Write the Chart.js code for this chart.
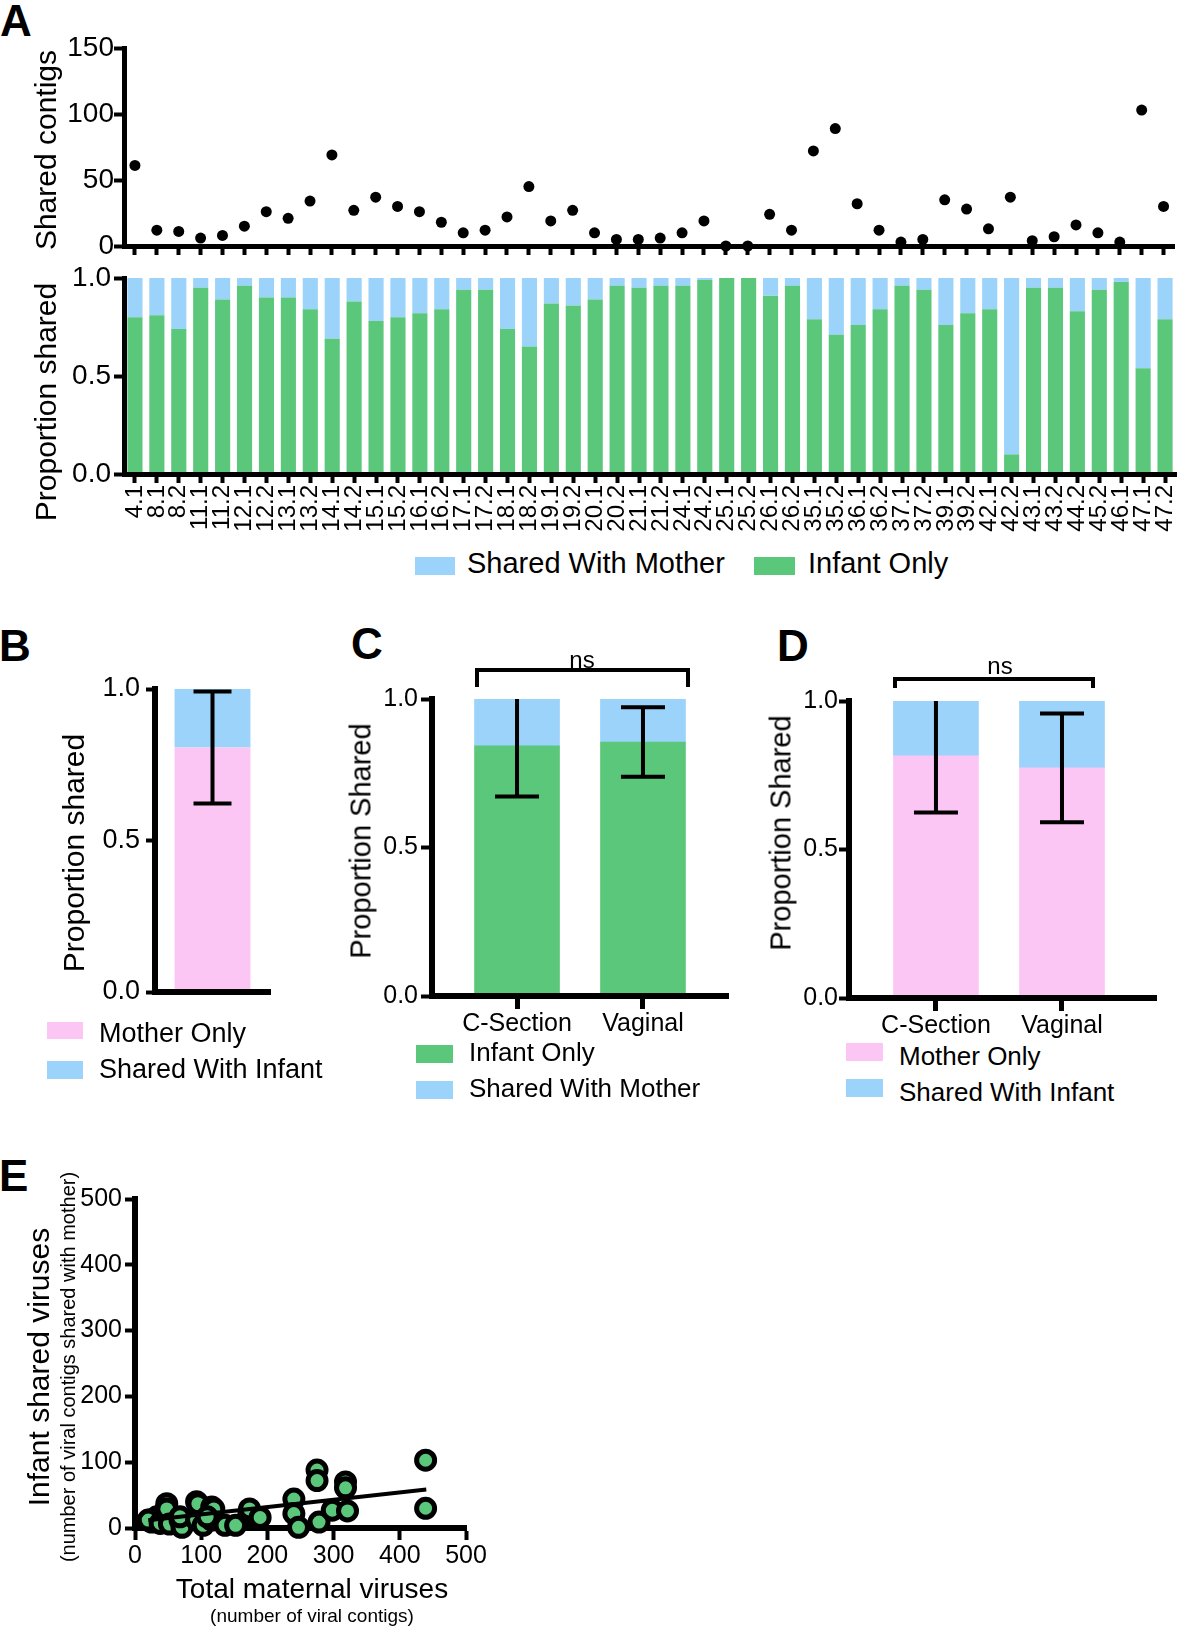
<!DOCTYPE html>
<html><head><meta charset="utf-8">
<script src="https://cdn.jsdelivr.net/npm/chart.js@4.4.1/dist/chart.umd.min.js"></script>
<style>
html,body{margin:0;padding:0;background:#fff;}
body{width:1180px;height:1628px;position:relative;overflow:hidden;font-family:'Liberation Sans',Arial,Helvetica,sans-serif;color:#000;}
.box{position:absolute;}
.t{position:absolute;white-space:nowrap;line-height:1;}
.c{transform:translateX(-50%);}
.rot{position:absolute;white-space:nowrap;line-height:1;transform:translate(-50%,-50%) rotate(-90deg);}
.sw{position:absolute;}
.panel{position:absolute;font-weight:bold;font-size:44px;line-height:1;}
.ln{position:absolute;background:#000;}
</style></head><body>

<div class="panel" style="left:0;top:-1px;">A</div>
<div class="panel" style="left:-1px;top:624px;">B</div>
<div class="panel" style="left:351px;top:622px;">C</div>
<div class="panel" style="left:777px;top:624px;">D</div>
<div class="panel" style="left:-1px;top:1154px;">E</div>

<div class="box" style="left:0;top:0;width:1180px;height:262px;"><canvas id="cA1"></canvas></div>
<div class="box" style="left:0;top:262px;width:1180px;height:278px;"><canvas id="cA2"></canvas></div>
<div class="box" style="left:0;top:660px;width:275px;height:340px;"><canvas id="cB"></canvas></div>
<div class="box" style="left:340px;top:680px;width:400px;height:360px;"><canvas id="cC"></canvas></div>
<div class="box" style="left:760px;top:680px;width:410px;height:360px;"><canvas id="cD"></canvas></div>
<div class="box" style="left:0;top:1180px;width:490px;height:400px;"><canvas id="cE"></canvas></div>

<div class="rot" style="left:46px;top:150px;font-size:30px;">Shared contigs</div>
<div class="rot" style="left:46px;top:402px;font-size:30px;">Proportion shared</div>
<div class="rot" style="left:74px;top:853px;font-size:30px;">Proportion shared</div>
<div class="rot" style="left:361px;top:841px;font-size:29px;">Proportion Shared</div>
<div class="rot" style="left:781px;top:833px;font-size:29px;">Proportion Shared</div>
<div class="rot" style="left:39px;top:1367px;font-size:30px;">Infant shared viruses</div>
<div class="rot" style="left:68px;top:1367px;font-size:20px;">(number of viral contigs shared with mother)</div>
<div class="t c" style="left:312px;top:1575px;font-size:28px;">Total maternal viruses</div>
<div class="t c" style="left:312px;top:1606px;font-size:19px;">(number of viral contigs)</div>

<div class="sw" style="left:415px;top:557px;width:40px;height:18px;background:#9bd3fa;"></div>
<div class="t" style="left:467px;top:549px;font-size:29px;">Shared With Mother</div>
<div class="sw" style="left:754px;top:557px;width:41px;height:18px;background:#5ac77b;"></div>
<div class="t" style="left:808px;top:549px;font-size:29px;">Infant Only</div>

<div class="sw" style="left:47px;top:1022px;width:36px;height:17px;background:#fcc6f4;"></div>
<div class="t" style="left:99px;top:1020px;font-size:27px;">Mother Only</div>
<div class="sw" style="left:47px;top:1061px;width:36px;height:18px;background:#9bd3fa;"></div>
<div class="t" style="left:99px;top:1056px;font-size:27px;">Shared With Infant</div>

<div class="sw" style="left:416px;top:1045px;width:37px;height:18px;background:#5ac77b;"></div>
<div class="t" style="left:469px;top:1039px;font-size:26px;">Infant Only</div>
<div class="sw" style="left:416px;top:1081px;width:37px;height:18px;background:#9bd3fa;"></div>
<div class="t" style="left:469px;top:1075px;font-size:26px;">Shared With Mother</div>

<div class="sw" style="left:846px;top:1043px;width:37px;height:18px;background:#fcc6f4;"></div>
<div class="t" style="left:899px;top:1043px;font-size:26px;">Mother Only</div>
<div class="sw" style="left:846px;top:1079px;width:37px;height:18px;background:#9bd3fa;"></div>
<div class="t" style="left:899px;top:1079px;font-size:26px;">Shared With Infant</div>

<div class="ln" style="left:475px;top:668px;width:215px;height:4px;"></div>
<div class="ln" style="left:475px;top:668px;width:4px;height:19px;"></div>
<div class="ln" style="left:686px;top:668px;width:4px;height:19px;"></div>
<div class="t c" style="left:582px;top:648px;font-size:24px;">ns</div>
<div class="ln" style="left:893px;top:677px;width:202px;height:4px;"></div>
<div class="ln" style="left:893px;top:677px;width:4px;height:11px;"></div>
<div class="ln" style="left:1091px;top:677px;width:4px;height:11px;"></div>
<div class="t c" style="left:1000px;top:654px;font-size:24px;">ns</div>

<script>
// ---------------- DATA ----------------
const infantIds = ['4.1','8.1','8.2','11.1','11.2','12.1','12.2','13.1','13.2','14.1','14.2','15.1','15.2','16.1','16.2','17.1','17.2','18.1','18.2','19.1','19.2','20.1','20.2','21.1','21.2','24.1','24.2','25.1','25.2','26.1','26.2','35.1','35.2','36.1','36.2','37.1','37.2','39.1','39.2','42.1','42.2','43.1','43.2','44.2','45.2','46.1','47.1','47.2'];
const sharedContigs = [61,12,11,6,8,15,26,21,34,69,27,37,30,26,18,10,12,22,45,19,27,10,5,5,6,10,19,0,0,24,12,72,89,32,12,3,5,35,28,13,37,4,7,16,10,3,103,30];
const infantOnlyProp = [0.80,0.81,0.74,0.95,0.89,0.96,0.90,0.90,0.84,0.69,0.88,0.78,0.80,0.82,0.84,0.94,0.94,0.74,0.65,0.87,0.86,0.89,0.96,0.95,0.96,0.96,0.99,1.00,1.00,0.91,0.96,0.79,0.71,0.76,0.84,0.96,0.94,0.76,0.82,0.84,0.10,0.95,0.95,0.83,0.94,0.98,0.54,0.79];
const sharedWithMotherProp = [0.20,0.19,0.26,0.05,0.11,0.04,0.10,0.10,0.16,0.31,0.12,0.22,0.20,0.18,0.16,0.06,0.06,0.26,0.35,0.13,0.14,0.11,0.04,0.05,0.04,0.04,0.01,0.00,0.00,0.09,0.04,0.21,0.29,0.24,0.16,0.04,0.06,0.24,0.18,0.16,0.90,0.05,0.05,0.17,0.06,0.02,0.46,0.21];

const motherGroupB = ['Mothers'];
const motherOnlyB = [0.807];
const sharedWithInfantB = [0.193];
const sdB = [0.185];

const deliveryGroups = ['C-Section','Vaginal'];
const infantOnlyC = [0.842,0.855];
const sharedWithMotherC = [0.158,0.145];
const sdC = [0.170,0.117];

const motherOnlyD = [0.815,0.775];
const sharedWithInfantD = [0.185,0.225];
const sdD = [0.190,0.183];

const maternalTotal = [22,33,25,20,38,48,46,48,52,68,71,68,93,93,95,103,116,116,119,109,136,152,172,173,189,240,240,247,275,275,278,298,318,318,321,439,439];
const infantShared  = [12,17,9,12,7,37,27,29,6,12,1,17,40,12,37,4,32,12,29,17,4,4,22,29,16,44,22,1,88,72,9,27,70,61,26,103,30];
const fitX = [20,440];
const fitY = [11.8,58.4];

// ---------------- STYLE ----------------
const GREEN = '#5ac77b', BLUE = '#9bd3fa', PINK = '#fcc6f4';
Chart.defaults.font.family = "'Liberation Sans', Arial, Helvetica, sans-serif";
Chart.defaults.color = '#000';
Chart.defaults.animation = false;
Chart.defaults.plugins.legend.display = false;
Chart.defaults.plugins.tooltip.enabled = false;

const errorBars = {
  id: 'errorBars',
  afterDatasetsDraw(chart, args, opts) {
    if (!opts || !opts.sd) return;
    const meta = chart.getDatasetMeta(opts.datasetIndex);
    const ds = chart.data.datasets[opts.datasetIndex];
    const ys = chart.scales.y;
    const ctx = chart.ctx;
    ctx.save();
    ctx.strokeStyle = '#000';
    ctx.lineWidth = opts.lineWidth;
    ctx.lineCap = 'butt';
    meta.data.forEach((bar, i) => {
      const raw = ds.data[i];
      const v = (typeof raw === 'object') ? raw.y : raw;
      const hi = v + opts.sd[i], lo = v - opts.sd[i];
      const yHi = ys.getPixelForValue(Math.min(hi, ys.max));
      const yLo = ys.getPixelForValue(lo);
      const x = bar.x, hw = opts.capWidth / 2;
      ctx.beginPath();
      ctx.moveTo(x, yLo); ctx.lineTo(x, yHi);
      ctx.moveTo(x - hw, yLo); ctx.lineTo(x + hw, yLo);
      if (hi <= ys.max) { ctx.moveTo(x - hw, yHi); ctx.lineTo(x + hw, yHi); }
      ctx.stroke();
    });
    ctx.restore();
  }
};
Chart.register(errorBars);

function yAxis(o) {
  return {
    type: 'linear', min: o.min, max: o.max, stacked: !!o.stacked,
    ticks: {stepSize: o.step, font: {size: o.fs}, padding: o.pad, color: '#000',
            callback: o.cb || (v => v)},
    grid: {display: true, drawOnChartArea: false, drawTicks: true, tickLength: o.tl, tickWidth: 4, tickColor: '#000'},
    border: {display: true, width: o.bw, color: '#000', z: 1},
    afterFit: s => { s.width = o.width; s.paddingTop = 0; s.paddingBottom = 0; }
  };
}
function fixX(h) {
  return s => { s.height = h; s.paddingLeft = 0; s.paddingRight = 0; };
}
const fmt1 = v => Number(v).toFixed(1);

// ---------------- A top: shared contigs ----------------
new Chart(document.getElementById('cA1'), {
  type: 'line',
  data: {labels: infantIds, datasets: [{
    data: sharedContigs, showLine: false, pointRadius: 5.5, pointBackgroundColor: '#000',
    pointBorderWidth: 0, borderColor: '#000', clip: false
  }]},
  options: {
    responsive: true, maintainAspectRatio: false,
    layout: {padding: {top: 48, right: 4, left: 0, bottom: 0}},
    scales: {
      x: {type: 'category', offset: true,
          ticks: {display: false},
          grid: {display: true, drawOnChartArea: false, drawTicks: true, tickLength: 9, tickWidth: 4, tickColor: '#000', offset: false},
          border: {display: true, width: 5, color: '#000'},
          afterFit: fixX(16)},
      y: yAxis({min: 0, max: 150, step: 50, fs: 28, pad: 0, tl: 10, bw: 5, width: 124})
    }
  }
});

// ---------------- A bottom: proportion per infant ----------------
new Chart(document.getElementById('cA2'), {
  type: 'bar',
  data: {labels: infantIds, datasets: [
    {label: 'Infant Only', data: infantOnlyProp, backgroundColor: GREEN, borderWidth: 0},
    {label: 'Shared With Mother', data: sharedWithMotherProp, backgroundColor: BLUE, borderWidth: 0}
  ]},
  options: {
    responsive: true, maintainAspectRatio: false,
    datasets: {bar: {barPercentage: 0.69, categoryPercentage: 1}},
    layout: {padding: {top: 16, right: 4, left: 0, bottom: 0}},
    scales: {
      x: {type: 'category', offset: true, stacked: true,
          ticks: {autoSkip: false, minRotation: 90, maxRotation: 90, font: {size: 24}, padding: 2, color: '#000'},
          grid: {display: true, drawOnChartArea: false, drawTicks: true, tickLength: 9, tickWidth: 4, tickColor: '#000', offset: false},
          border: {display: true, width: 5, color: '#000', z: 1},
          afterFit: fixX(66)},
      y: yAxis({min: 0, max: 1, step: 0.5, fs: 28, pad: 3, tl: 10, bw: 5, width: 124, stacked: true, cb: fmt1})
    }
  }
});

// ---------------- B ----------------
new Chart(document.getElementById('cB'), {
  type: 'bar',
  data: {labels: motherGroupB, datasets: [
    {label: 'Mother Only', data: motherOnlyB, backgroundColor: PINK, borderWidth: 0},
    {label: 'Shared With Infant', data: sharedWithInfantB, backgroundColor: BLUE, borderWidth: 0}
  ]},
  options: {
    responsive: true, maintainAspectRatio: false,
    datasets: {bar: {barPercentage: 0.66, categoryPercentage: 1}},
    layout: {padding: {top: 29, right: 5, left: 0, bottom: 0}},
    plugins: {errorBars: {datasetIndex: 0, sd: sdB, capWidth: 38, lineWidth: 4}},
    scales: {
      x: {type: 'category', offset: true, stacked: true,
          ticks: {display: false},
          grid: {display: false},
          border: {display: true, width: 6, color: '#000', z: 1},
          afterFit: fixX(8)},
      y: yAxis({min: 0, max: 1, step: 0.5, fs: 27, pad: 6, tl: 9, bw: 6, width: 155, stacked: true, cb: fmt1})
    }
  }
});

// ---------------- C & D (two delivery groups) ----------------
function groupChart(id, bottomLabel, bottomData, topLabel, topData, bottomColor, sd, o) {
  new Chart(document.getElementById(id), {
    type: 'bar',
    data: {datasets: [
      {label: bottomLabel, data: bottomData.map((v, i) => ({x: i, y: v})), backgroundColor: bottomColor, borderWidth: 0},
      {label: topLabel, data: topData.map((v, i) => ({x: i, y: v})), backgroundColor: BLUE, borderWidth: 0}
    ]},
    options: {
      responsive: true, maintainAspectRatio: false,
      datasets: {bar: {grouped: false, maxBarThickness: 85, barPercentage: 1, categoryPercentage: 1}},
      layout: {padding: {top: o.padTop, right: o.padRight, left: 0, bottom: 0}},
      plugins: {errorBars: {datasetIndex: 0, sd: sd, capWidth: 44, lineWidth: 4}},
      scales: {
        x: {type: 'linear', min: o.xmin, max: o.xmax, offset: false, bounds: 'data',
            afterBuildTicks: s => { s.ticks = deliveryGroups.map((g, i) => ({value: i})); },
            ticks: {autoSkip: false, font: {size: 25}, padding: 0, color: '#000', maxRotation: 0,
                    callback: v => deliveryGroups[v]},
            grid: {display: true, offset: false, drawOnChartArea: false, drawTicks: true, tickLength: 13, tickWidth: 5, tickColor: '#000', z: 2},
            border: {display: true, width: 6, color: '#000', z: 2},
            afterFit: fixX(o.xh)},
        y: yAxis({min: 0, max: 1, step: 0.5, fs: 25, pad: o.ypad, tl: o.ytl, bw: 6, width: o.yw, stacked: true, cb: fmt1})
      }
    }
  });
}
groupChart('cC', 'Infant Only', infantOnlyC, 'Shared With Mother', sharedWithMotherC, GREEN, sdC,
  {padTop: 19, padRight: 12, xmin: -0.675, xmax: 1.675, xh: 44, yw: 92, ypad: 3, ytl: 11});
groupChart('cD', 'Mother Only', motherOnlyD, 'Shared With Infant', sharedWithInfantD, PINK, sdD,
  {padTop: 21, padRight: 14, xmin: -0.690, xmax: 1.746, xh: 42, yw: 89, ypad: 1, ytl: 10});

// ---------------- E scatter ----------------
new Chart(document.getElementById('cE'), {
  type: 'scatter',
  data: {datasets: [
    {type: 'line', data: fitX.map((x, i) => ({x: x, y: fitY[i]})), borderColor: '#000', borderWidth: 4,
     pointRadius: 0, showLine: true, fill: false, order: 0, clip: false},
    {data: maternalTotal.map((x, i) => ({x: x, y: infantShared[i]})), pointRadius: 9, pointBorderWidth: 5,
     pointBackgroundColor: GREEN, pointBorderColor: '#000', order: 1, clip: false}
  ]},
  options: {
    responsive: true, maintainAspectRatio: false,
    layout: {padding: {top: 19, right: 24, left: 0, bottom: 0}},
    scales: {
      x: {type: 'linear', min: 0, max: 500,
          ticks: {stepSize: 100, font: {size: 25}, padding: 1, color: '#000', maxRotation: 0},
          grid: {display: true, drawOnChartArea: false, drawTicks: true, tickLength: 12, tickWidth: 4, tickColor: '#000'},
          border: {display: true, width: 6, color: '#000'},
          afterFit: fixX(52)},
      y: yAxis({min: 0, max: 500, step: 100, fs: 25, pad: 3, tl: 10, bw: 6, width: 135})
    }
  }
});
</script>
</body></html>
